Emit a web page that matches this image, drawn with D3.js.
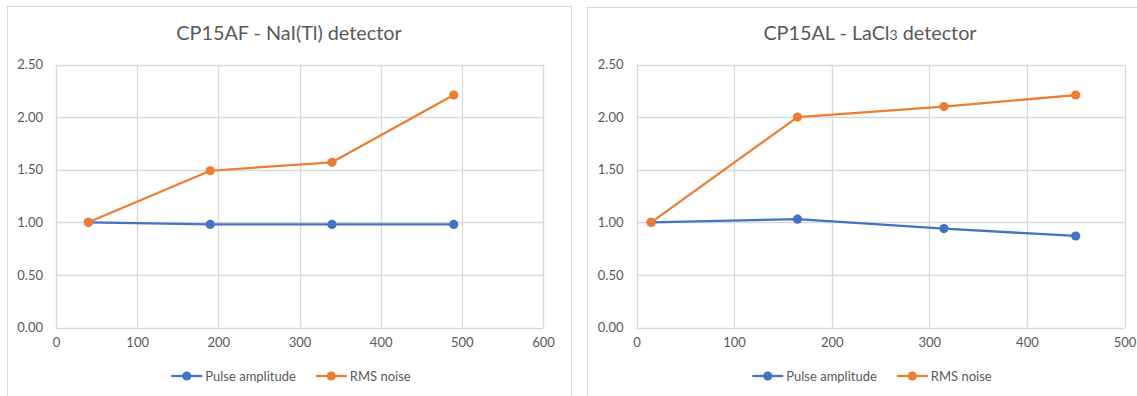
<!DOCTYPE html>
<html>
<head>
<meta charset="utf-8">
<script src="https://cdn.jsdelivr.net/npm/d3@7"></script>
<style>
  html, body { margin: 0; padding: 0; background: #fff; }
  svg { display: block; }
  text { font-family: Lato, "Open Sans", sans-serif; fill: #595959; }
</style>
</head>
<body>
<svg id="chart" width="1137" height="396"></svg>
<script>
// Normalised response vs. count rate for two detectors
const nalX = [40, 190, 340, 490];
const nalPulse = [1.00, 0.98, 0.98, 0.98];
const nalNoise = [1.00, 1.49, 1.57, 2.21];

const laX = [15, 165, 315, 450];
const laPulse = [1.00, 1.03, 0.94, 0.87];
const laNoise = [1.00, 2.00, 2.10, 2.21];

const seriesNames = ["Pulse amplitude", "RMS noise"];
const seriesColors = ["#4472C4", "#ED7D31"];
const yTicks = [0, 0.5, 1, 1.5, 2, 2.5];
const nalXTicks = [0, 100, 200, 300, 400, 500, 600];
const laXTicks = [0, 100, 200, 300, 400, 500];

const svg = d3.select("#chart");

function drawPanel(opt) {
  const g = svg.append("g");

  // outer frame
  g.append("rect")
    .attr("x", opt.frame[0] + 0.5).attr("y", opt.frame[1] + 0.5)
    .attr("width", opt.frame[2]).attr("height", opt.frame[3])
    .attr("fill", "#fff").attr("stroke", "#D9D9D9").attr("stroke-width", 1);

  const cx = opt.frame[0] + opt.frame[2] / 2;

  // title
  const t = g.append("text")
    .attr("x", cx).attr("y", 40)
    .attr("text-anchor", "middle")
    .attr("font-size", 19.8);
  opt.title.forEach(p => {
    const s = t.append("tspan").text(p.text);
    if (p.small) s.attr("font-size", 14);
  });

  const x = d3.scaleLinear().domain(opt.xDomain).range(opt.xRange);
  const y = d3.scaleLinear().domain([0, 2.5]).range([327.5, 64.5]);

  // gridlines
  g.append("g").selectAll("line.h").data(yTicks).join("line")
    .attr("x1", opt.xRange[0]).attr("x2", opt.xRange[1])
    .attr("y1", d => Math.round(y(d)) + 0.5).attr("y2", d => Math.round(y(d)) + 0.5)
    .attr("stroke", "#D9D9D9").attr("stroke-width", 1.3);
  g.append("g").selectAll("line.v").data(opt.xTicks).join("line")
    .attr("x1", d => Math.round(x(d)) + 0.5).attr("x2", d => Math.round(x(d)) + 0.5)
    .attr("y1", y(2.5)).attr("y2", y(0))
    .attr("stroke", "#D9D9D9").attr("stroke-width", 1.3);

  // tick labels via d3 axes
  const yAxis = g.append("g")
    .attr("transform", `translate(${opt.xRange[0] - 13},0)`)
    .call(d3.axisLeft(y).tickValues(yTicks).tickFormat(d3.format(".2f")).tickSize(0).tickPadding(0));
  yAxis.select(".domain").remove();
  yAxis.selectAll("text").attr("font-size", 13).attr("fill", "#595959")
    .style("font-family", "Lato, sans-serif");

  const xAxis = g.append("g")
    .attr("transform", `translate(0,${y(0) + 10})`)
    .call(d3.axisBottom(x).tickValues(opt.xTicks).tickFormat(d3.format("d")).tickSize(0).tickPadding(0));
  xAxis.select(".domain").remove();
  xAxis.selectAll("text").attr("font-size", 13).attr("fill", "#595959")
    .style("font-family", "Lato, sans-serif");

  // series
  opt.series.forEach((vals, i) => {
    const pts = opt.xs.map((xv, j) => [xv, vals[j]]);
    g.append("path")
      .datum(pts)
      .attr("fill", "none")
      .attr("stroke", seriesColors[i])
      .attr("stroke-width", 2.25)
      .attr("stroke-linejoin", "round")
      .attr("d", d3.line().x(d => x(d[0])).y(d => y(d[1])));
    g.append("g").selectAll("circle").data(pts).join("circle")
      .attr("cx", d => x(d[0])).attr("cy", d => y(d[1]))
      .attr("r", 4.6)
      .attr("fill", seriesColors[i]);
  });

  // legend
  const leg = g.append("g");
  let off = 0;
  seriesNames.forEach((name, i) => {
    const item = leg.append("g").attr("transform", `translate(${off},0)`);
    item.append("line").attr("x1", 0).attr("x2", 31).attr("y1", 0).attr("y2", 0)
      .attr("stroke", seriesColors[i]).attr("stroke-width", 2.25);
    item.append("circle").attr("cx", 15.5).attr("cy", 0).attr("r", 4.6).attr("fill", seriesColors[i]);
    const tx = item.append("text").attr("x", 34).attr("y", 4.5)
      .attr("font-size", 13).text(name);
    off += 34 + tx.node().getComputedTextLength() + 20;
  });
  const legW = off - 20;
  leg.attr("transform", `translate(${cx + 2 - legW / 2},376)`);
}

drawPanel({
  frame: [7, 6, 564, 400],
  title: [{ text: "CP15AF - NaI(Tl) detector" }],
  xDomain: [0, 600], xRange: [56, 543],
  xTicks: nalXTicks, xs: nalX,
  series: [nalPulse, nalNoise]
});

drawPanel({
  frame: [587, 7, 566, 400],
  title: [{ text: "CP15AL - LaCl" }, { text: "3", small: true }, { text: " detector" }],
  xDomain: [0, 500], xRange: [636.5, 1124.5],
  xTicks: laXTicks, xs: laX,
  series: [laPulse, laNoise]
});
</script>
</body>
</html>
